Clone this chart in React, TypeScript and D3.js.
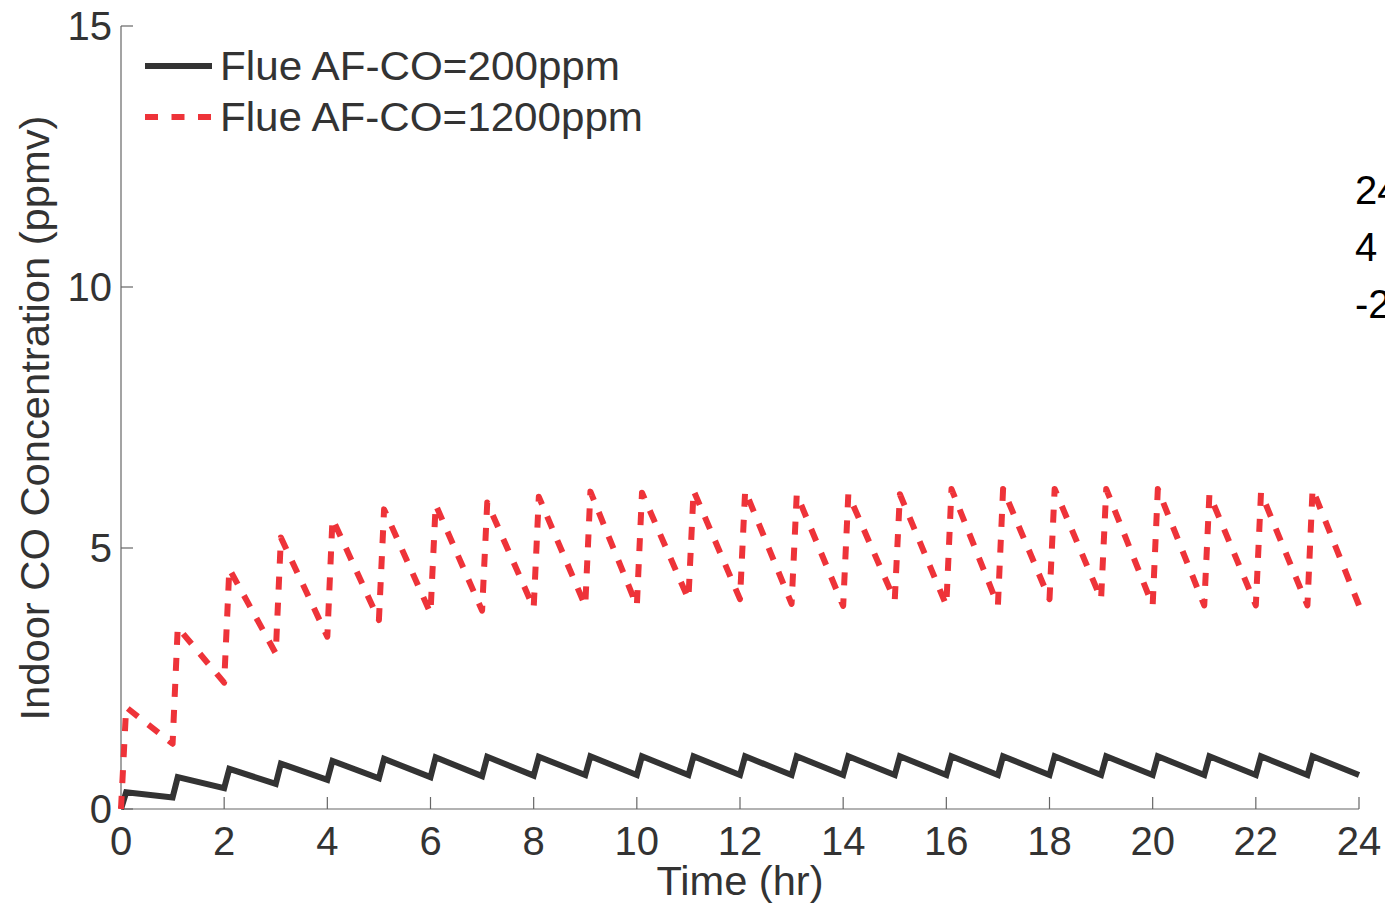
import React from "react";
import * as d3 from "d3";

// hour marks (burner cycles start each hour)
const hours = [0, 1, 2, 3, 4, 5, 6, 7, 8, 9, 10, 11, 12, 13, 14, 15, 16, 17, 18, 19, 20, 21, 22, 23, 24];
const peakOffset = 0.1;

// Flue AF-CO = 200 ppm: value at start of each hour (trough) and just after burner (peak)
const lowTrough = [0, 0.22, 0.4, 0.48, 0.56, 0.59, 0.61, 0.63, 0.64, 0.65, 0.65, 0.65, 0.65, 0.65, 0.65, 0.65, 0.65, 0.65, 0.65, 0.65, 0.65, 0.65, 0.65, 0.65, 0.65];
const lowPeak = [0.32, 0.61, 0.77, 0.87, 0.92, 0.96, 0.99, 1.0, 1.0, 1.01, 1.01, 1.01, 1.01, 1.01, 1.01, 1.01, 1.01, 1.01, 1.01, 1.01, 1.01, 1.01, 1.01, 1.01];

// Flue AF-CO = 1200 ppm
const highTrough = [0, 1.25, 2.42, 2.98, 3.3, 3.62, 3.75, 3.8, 3.85, 3.89, 3.89, 4.02, 4.02, 3.93, 3.89, 4.0, 3.9, 3.9, 4.02, 4.02, 3.9, 3.9, 3.9, 3.9, 3.9];
const highPeak = [1.95, 3.48, 4.6, 5.2, 5.56, 5.74, 5.83, 5.87, 5.98, 6.08, 6.06, 6.1, 6.1, 6.03, 6.03, 6.03, 6.13, 6.13, 6.13, 6.13, 6.13, 6.03, 6.06, 6.13];

const xTicks = [0, 2, 4, 6, 8, 10, 12, 14, 16, 18, 20, 22, 24];
const yTicks = [0, 5, 10, 15];
const legendLabels = ["Flue AF-CO=200ppm", "Flue AF-CO=1200ppm"];
const sideTexts = ["24", "4", "-2"];

const W = 1385;
const H = 904;
const FONT = "'Liberation Sans', Arial, Helvetica, sans-serif";

function buildSeries(trough: number[], peak: number[]): [number, number][] {
  const pts: [number, number][] = [];
  hours.forEach((h, i) => {
    pts.push([h, trough[i]]);
    if (i < peak.length) pts.push([h + peakOffset, peak[i]]);
  });
  return pts;
}

export default function App() {
  const x = d3.scaleLinear().domain([0, 24]).range([121, 1359]);
  const y = d3.scaleLinear().domain([0, 15]).range([809, 26]);
  const line = d3
    .line<[number, number]>()
    .x((d) => x(d[0]))
    .y((d) => y(d[1]));

  const low = buildSeries(lowTrough, lowPeak);
  const high = buildSeries(highTrough, highPeak);

  const axisColor = "#666";
  const textColor = "#333";
  const black = "#333333";
  const red = "#ee3339";

  return (
    <svg
      width={W}
      height={H}
      style={{ position: "absolute", left: 0, top: 0, background: "#fff" }}
      fontFamily={FONT}
    >
      <rect x={0} y={0} width={W} height={H} fill="#fff" />
      {/* axes */}
      <line x1={x(0)} x2={x(0)} y1={y(15)} y2={y(0)} stroke={axisColor} strokeWidth={1.2} />
      <line x1={x(0)} x2={x(24)} y1={y(0)} y2={y(0)} stroke={axisColor} strokeWidth={1.2} />
      {yTicks.map((t) => (
        <g key={"y" + t}>
          <line x1={x(0)} x2={x(0) + 12} y1={y(t)} y2={y(t)} stroke={axisColor} strokeWidth={1.2} />
          <text
            x={x(0) - 9}
            y={y(t) + 14}
            textAnchor="end"
            fontSize={40}
            fill={textColor}
          >
            {t}
          </text>
        </g>
      ))}
      {xTicks.map((t) => (
        <g key={"x" + t}>
          <line x1={x(t)} x2={x(t)} y1={y(0)} y2={y(0) - 12} stroke={axisColor} strokeWidth={1.2} />
          <text x={x(t)} y={855} textAnchor="middle" fontSize={40} fill={textColor}>
            {t}
          </text>
        </g>
      ))}
      {/* axis labels */}
      <text
        x={740}
        y={895}
        textAnchor="middle"
        fontSize={40}
        fill={textColor}
        textLength={167}
        lengthAdjust="spacingAndGlyphs"
      >
        Time (hr)
      </text>
      <text
        transform="translate(49,418) rotate(-90)"
        textAnchor="middle"
        fontSize={40}
        fill={textColor}
        textLength={605}
        lengthAdjust="spacingAndGlyphs"
      >
        Indoor CO Concentration (ppmv)
      </text>

      {/* series */}
      <path d={line(low) || ""} fill="none" stroke={black} strokeWidth={6} strokeLinejoin="miter" />
      <path
        d={line(high) || ""}
        fill="none"
        stroke={red}
        strokeWidth={6}
        strokeDasharray="13,13"
        strokeLinejoin="round"
      />

      {/* legend */}
      <line x1={145} x2={212} y1={66} y2={66} stroke={black} strokeWidth={6} />
      <line x1={145} x2={212} y1={117} y2={117} stroke={red} strokeWidth={6} strokeDasharray="13,13.5" />
      <text x={220} y={80} fontSize={40} fill={textColor} textLength={400} lengthAdjust="spacingAndGlyphs">
        {legendLabels[0]}
      </text>
      <text x={220} y={131} fontSize={40} fill={textColor} textLength={423} lengthAdjust="spacingAndGlyphs">
        {legendLabels[1]}
      </text>

      {/* side annotation, cut off by the right edge as in the original */}
      {sideTexts.map((s, i) => (
        <text key={s} x={1355} y={204 + i * 57} fontSize={40} fill="#000">
          {s}
        </text>
      ))}
    </svg>
  );
}
